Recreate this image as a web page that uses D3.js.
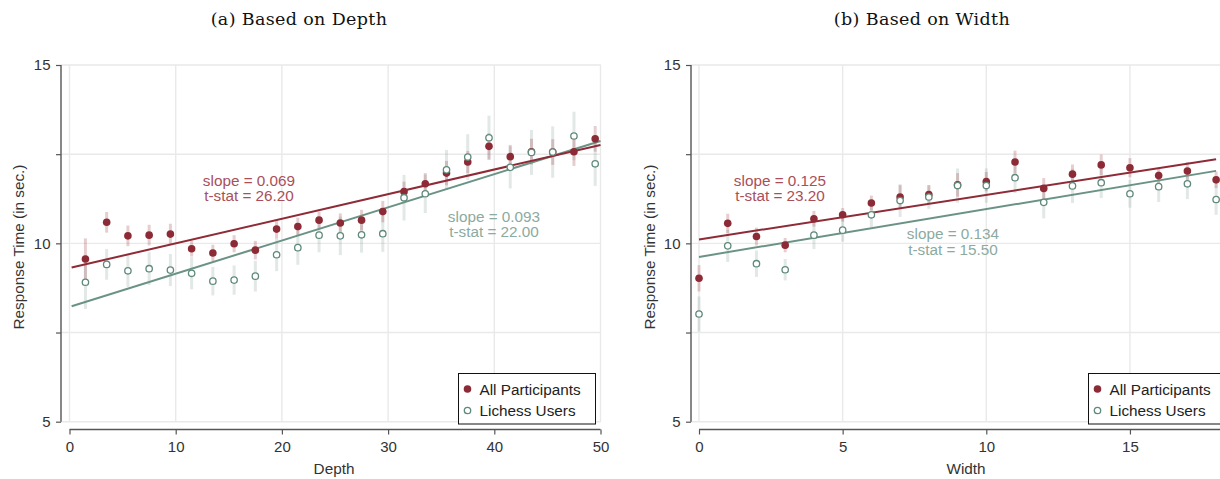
<!DOCTYPE html>
<html>
<head>
<meta charset="utf-8">
<script src="https://cdn.jsdelivr.net/npm/d3@7"></script>
<style>
  html, body { margin: 0; padding: 0; background: #fff; }
  svg { display: block; font-family: "Liberation Sans", Arial, Helvetica, sans-serif; }
  text.panel-title { font-family: "DejaVu Serif", "Liberation Serif", serif; }
</style>
</head>
<body>
<svg id="chart" width="1220" height="479"></svg>
<script>
// ---- Panel (a): response time by search depth ----
const depthX      = [1.5, 3.5, 5.5, 7.5, 9.5, 11.5, 13.5, 15.5, 17.5, 19.5, 21.5, 23.5, 25.5,
                     27.5, 29.5, 31.5, 33.5, 35.5, 37.5, 39.5, 41.5, 43.5, 45.5, 47.5, 49.5];
const depthAll    = [9.56, 10.59, 10.21, 10.23, 10.26, 9.85, 9.73, 9.99, 9.81, 10.40, 10.47, 10.65, 10.57,
                     10.65, 10.89, 11.45, 11.67, 11.97, 12.28, 12.72, 12.43, 12.57, 12.56, 12.57, 12.93];
const depthAllCI  = [0.58, 0.29, 0.29, 0.29, 0.29, 0.22, 0.23, 0.24, 0.26, 0.26, 0.25, 0.24, 0.27,
                     0.29, 0.30, 0.28, 0.30, 0.34, 0.31, 0.37, 0.33, 0.36, 0.36, 0.40, 0.36];
const depthLich   = [8.91, 9.41, 9.23, 9.29, 9.25, 9.16, 8.94, 8.97, 9.08, 9.68, 9.88, 10.23, 10.21,
                     10.24, 10.27, 11.28, 11.39, 12.06, 12.42, 12.96, 12.13, 12.55, 12.56, 13.01, 12.23];
const depthLichCI = [0.75, 0.43, 0.45, 0.46, 0.45, 0.45, 0.40, 0.41, 0.43, 0.46, 0.48, 0.48, 0.54,
                     0.50, 0.51, 0.64, 0.54, 0.56, 0.64, 0.62, 0.59, 0.63, 0.72, 0.68, 0.62];
const depthXTicks = [0, 10, 20, 30, 40, 50];
const depthFitAll  = [9.31, 0.069];   // intercept, slope
const depthFitLich = [8.22, 0.093];
const depthStatAll  = ["slope = 0.069", "t-stat = 26.20"];
const depthStatLich = ["slope = 0.093", "t-stat = 22.00"];

// ---- Panel (b): response time by search width ----
const widthX      = [0, 1, 2, 3, 4, 5, 6, 7, 8, 9, 10, 11, 12, 13, 14, 15, 16, 17, 18];
const widthAll    = [9.02, 10.56, 10.19, 9.95, 10.69, 10.80, 11.13, 11.30, 11.37, 11.64,
                     11.73, 12.28, 11.54, 11.94, 12.20, 12.12, 11.90, 12.03, 11.78];
const widthAllCI  = [0.37, 0.27, 0.25, 0.20, 0.22, 0.19, 0.21, 0.33, 0.26, 0.33,
                     0.27, 0.32, 0.29, 0.27, 0.29, 0.27, 0.21, 0.25, 0.23];
const widthLich   = [8.02, 9.93, 9.43, 9.26, 10.23, 10.37, 10.80, 11.20, 11.30, 11.62,
                     11.62, 11.84, 11.15, 11.61, 11.70, 11.39, 11.59, 11.67, 11.23];
const widthLichCI = [0.49, 0.45, 0.37, 0.30, 0.39, 0.32, 0.35, 0.46, 0.33, 0.48,
                     0.48, 0.43, 0.45, 0.48, 0.43, 0.39, 0.43, 0.43, 0.43];
const widthXTicks = [0, 5, 10, 15];
const widthFitAll  = [10.11, 0.125];
const widthFitLich = [9.62, 0.134];
const widthStatAll  = ["slope = 0.125", "t-stat = 23.20"];
const widthStatLich = ["slope = 0.134", "t-stat = 15.50"];

// ---- Shared ----
const yTicksMajor = [5, 10, 15];
const yTicksMinor = [7.5, 12.5];
const yGrid = [5, 7.5, 10, 12.5, 15];
const seriesNames = ["All Participants", "Lichess Users"];

const C = {
  red: "#8c2a36", redLine: "#8e2b37", redBar: "rgba(150,50,60,0.24)", redText: "#aa4f59",
  green: "#5f8a7b", greenLine: "#6a9385", greenBar: "rgba(120,150,140,0.22)", greenText: "#8caa9f",
  grid: "#e9e9e9", axis: "#555", tick: "#333"
};

const svg = d3.select("#chart");

function panel(cfg) {
  const g = svg.append("g");
  const x = d3.scaleLinear().domain(cfg.xDomain).range(cfg.xRange);
  const y = d3.scaleLinear().domain([5, 15]).range([421.7, 65]);
  const gridRight = cfg.gridRight;

  // grid
  g.append("g").selectAll("line").data(yGrid).join("line")
    .attr("x1", cfg.yAxisX).attr("x2", gridRight)
    .attr("y1", d => y(d)).attr("y2", d => y(d))
    .attr("stroke", C.grid).attr("stroke-width", 1.4);
  g.append("g").selectAll("line").data(cfg.xTicks).join("line")
    .attr("x1", d => x(d)).attr("x2", d => x(d))
    .attr("y1", y(15)).attr("y2", y(5))
    .attr("stroke", C.grid).attr("stroke-width", 1.4);

  // y axis
  const yAx = g.append("g").attr("transform", `translate(${cfg.yAxisX},0)`)
    .call(d3.axisLeft(y).tickValues(yTicksMajor).tickSize(5).tickPadding(5.5).tickFormat(d3.format("d")));
  g.append("g").attr("transform", `translate(${cfg.yAxisX},0)`)
    .call(d3.axisLeft(y).tickValues(yTicksMinor).tickSize(5).tickFormat(""))
    .call(s => s.select(".domain").remove());

  // x axis
  const xAx = g.append("g").attr("transform", "translate(0,429.5)")
    .call(d3.axisBottom(x).tickValues(cfg.xTicks).tickSize(5).tickPadding(6.5).tickFormat(d3.format("d")));

  [yAx, xAx].forEach(a => {
    a.select(".domain").attr("stroke", C.axis).attr("stroke-width", 1.4);
    a.selectAll(".tick text").attr("font-size", 15).attr("fill", "#333")
      .attr("font-family", null);
  });
  g.selectAll(".tick line").attr("stroke", C.axis).attr("stroke-width", 1.2);
  // domain paths without outer ticks
  yAx.select(".domain").attr("d", `M0,${y(15)}V${y(5)}`);
  xAx.select(".domain").attr("d", `M${x(cfg.xTicks[0])},0H${cfg.xAxisEnd}`);

  // error bars
  const bars = (xs, vals, ci, col) =>
    g.append("g").selectAll("line").data(xs).join("line")
      .attr("x1", d => x(d)).attr("x2", d => x(d))
      .attr("y1", (d, i) => y(vals[i] - ci[i])).attr("y2", (d, i) => y(vals[i] + ci[i]))
      .attr("stroke", col).attr("stroke-width", 3);
  bars(cfg.xs, cfg.lich, cfg.lichCI, C.greenBar);
  bars(cfg.xs, cfg.all, cfg.allCI, C.redBar);

  // fitted lines
  const fit = (f, col) => {
    const line = d3.line().x(d => x(d)).y(d => y(f[0] + f[1] * d));
    g.append("path").datum(cfg.fitRange).attr("d", line)
      .attr("fill", "none").attr("stroke", col).attr("stroke-width", 2);
  };
  fit(cfg.fitLich, C.greenLine);
  fit(cfg.fitAll, C.redLine);

  // points
  g.append("g").selectAll("circle").data(cfg.xs).join("circle")
    .attr("cx", d => x(d)).attr("cy", (d, i) => y(cfg.all[i])).attr("r", 3.8)
    .attr("fill", C.red);
  g.append("g").selectAll("circle").data(cfg.xs).join("circle")
    .attr("cx", d => x(d)).attr("cy", (d, i) => y(cfg.lich[i])).attr("r", 3.2)
    .attr("fill", "#fff").attr("stroke", C.green).attr("stroke-width", 1.3);

  // slope annotations
  const note = (lines, px, py, gap, col) =>
    g.append("text").attr("text-anchor", "middle").attr("font-size", 15.3).attr("fill", col)
      .selectAll("tspan").data(lines).join("tspan")
      .attr("x", px).attr("y", (d, i) => py + i * gap).text(d => d);
  note(cfg.statAll, cfg.noteAll[0], cfg.noteAll[1], cfg.noteAll[2], C.redText);
  note(cfg.statLich, cfg.noteLich[0], cfg.noteLich[1], cfg.noteLich[2], C.greenText);

  // axis titles
  g.append("text").attr("transform", `translate(${cfg.yLabelX},247) rotate(-90)`)
    .attr("text-anchor", "middle").attr("font-size", 15.3).attr("fill", "#333")
    .text("Response Time (in sec.)");
  g.append("text").attr("x", cfg.xLabelX).attr("y", 474).attr("text-anchor", "middle")
    .attr("font-size", 15.3).attr("fill", "#333").text(cfg.xLabel);

  // panel title
  g.append("text").attr("class", "panel-title").attr("x", cfg.titleX).attr("y", 25)
    .attr("text-anchor", "middle").attr("font-size", 17.5)
    .attr("letter-spacing", 0.35).attr("fill", "#111").text(cfg.title);

  // legend
  const lg = g.append("g").attr("transform", `translate(${cfg.legend[0]},373.5)`);
  lg.append("rect").attr("width", cfg.legend[1]).attr("height", 50.5)
    .attr("fill", "#fff").attr("stroke", "#111").attr("stroke-width", 1);
  lg.append("circle").attr("cx", 9).attr("cy", 15.5).attr("r", 3.8).attr("fill", C.red);
  lg.append("circle").attr("cx", 9).attr("cy", 37).attr("r", 3.2)
    .attr("fill", "#fff").attr("stroke", C.green).attr("stroke-width", 1.3);
  lg.selectAll("text.lbl").data(seriesNames).join("text").attr("class", "lbl")
    .attr("x", 21).attr("y", (d, i) => 21 + i * 21.5).attr("font-size", 15.3).attr("fill", "#222")
    .text(d => d);
}

panel({
  xs: depthX, all: depthAll, allCI: depthAllCI, lich: depthLich, lichCI: depthLichCI,
  xDomain: [0, 50], xRange: [69.5, 600.5], xTicks: depthXTicks, xAxisEnd: 600.5,
  yAxisX: 61, gridRight: 601, fitRange: [0.2, 50],
  fitAll: depthFitAll, fitLich: depthFitLich,
  statAll: depthStatAll, statLich: depthStatLich,
  noteAll: [249, 186, 15], noteLich: [494, 222, 15],
  yLabelX: 24, xLabelX: 334, xLabel: "Depth",
  titleX: 299, title: "(a) Based on Depth",
  legend: [458.5, 137]
});

panel({
  xs: widthX, all: widthAll, allCI: widthAllCI, lich: widthLich, lichCI: widthLichCI,
  xDomain: [0, 18.1], xRange: [699, 1219], xTicks: widthXTicks, xAxisEnd: 1220,
  yAxisX: 691, gridRight: 1220, fitRange: [0, 18],
  fitAll: widthFitAll, fitLich: widthFitLich,
  statAll: widthStatAll, statLich: widthStatLich,
  noteAll: [780, 186, 15], noteLich: [953, 239, 16],
  yLabelX: 655, xLabelX: 966, xLabel: "Width",
  titleX: 922, title: "(b) Based on Width",
  legend: [1088.5, 140]
});
</script>
</body>
</html>
